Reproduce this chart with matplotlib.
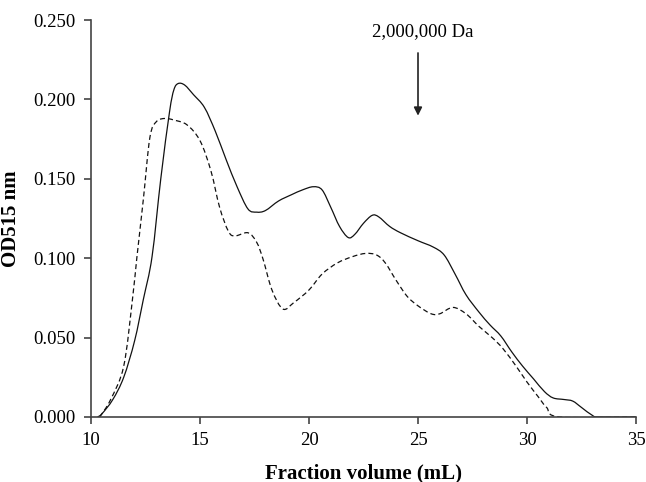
import matplotlib
matplotlib.use("Agg")
import matplotlib.pyplot as plt
from matplotlib.path import Path
from matplotlib.patches import PathPatch

plt.rcParams['font.family'] = ['Liberation Serif', 'DejaVu Serif']

# solid curve
solid_x = [10.3, 10.5, 11.0, 11.5, 12.0, 12.4, 12.8, 13.2, 13.6, 13.8, 14.0, 14.3, 14.7,
           15.2, 15.7, 16.2, 16.7, 17.2, 17.6, 18.0, 18.6, 19.2, 19.7, 20.2, 20.6, 21.0,
           21.4, 21.8, 22.1, 22.5, 22.9, 23.2, 23.7, 24.2, 25.0, 25.7, 26.2, 26.7, 27.2,
           27.8, 28.3, 28.8, 29.3, 29.8, 30.3, 30.8, 31.2, 31.7, 32.1, 32.5, 33.0, 33.3, 35.0]
solid_y = [0.000, 0.002, 0.011, 0.025, 0.048, 0.074, 0.101, 0.150, 0.192, 0.206, 0.210, 0.209, 0.203,
           0.195, 0.180, 0.162, 0.145, 0.131, 0.129, 0.130, 0.136, 0.140, 0.143, 0.145, 0.143, 0.132,
           0.120, 0.113, 0.115, 0.122, 0.127, 0.126, 0.120, 0.116, 0.111, 0.107, 0.102, 0.090, 0.077,
           0.066, 0.058, 0.051, 0.041, 0.032, 0.024, 0.016, 0.012, 0.011, 0.010, 0.006, 0.001, 0.000, 0.000]

# dashed curve
dash_x = [10.4, 10.9, 11.5, 11.9, 12.1, 12.4, 12.7, 13.0, 13.4, 13.8, 14.4, 15.0, 15.5, 15.9,
          16.3, 16.6, 17.2, 17.6, 17.9, 18.3, 18.8, 19.3, 20.0, 20.6, 21.3, 22.0, 22.6, 23.1,
          23.5, 24.0, 24.5, 25.0, 25.6, 26.0, 26.6, 27.2, 27.8, 28.4, 28.9, 29.5, 30.0, 30.5,
          30.9, 31.5, 35.0]
dash_y = [0.000, 0.011, 0.032, 0.074, 0.100, 0.137, 0.176, 0.186, 0.188, 0.187, 0.184, 0.174, 0.155, 0.132,
          0.117, 0.114, 0.116, 0.110, 0.099, 0.080, 0.068, 0.072, 0.080, 0.090, 0.097, 0.101, 0.103, 0.102,
          0.097, 0.086, 0.076, 0.070, 0.065, 0.065, 0.069, 0.065, 0.057, 0.050, 0.043, 0.032, 0.022, 0.013,
          0.006, 0.000, 0.000]

xticks = [10, 15, 20, 25, 30, 35]
yticks = [0.000, 0.050, 0.100, 0.150, 0.200, 0.250]


def smooth_path(xs, ys):
    # Catmull-Rom through the points, drawn as cubic bezier segments (like Excel smoothed lines)
    verts = [(xs[0], ys[0])]
    codes = [Path.MOVETO]
    n = len(xs)
    for i in range(n - 1):
        x0, y0 = (xs[i - 1], ys[i - 1]) if i > 0 else (xs[i], ys[i])
        x1, y1 = xs[i], ys[i]
        x2, y2 = xs[i + 1], ys[i + 1]
        x3, y3 = (xs[i + 2], ys[i + 2]) if i + 2 < n else (x2, y2)
        t = 1.0 / 6
        c1 = (x1 + (x2 - x0) * t, y1 + (y2 - y0) * t)
        c2 = (x2 - (x3 - x1) * t, y2 - (y3 - y1) * t)
        verts += [c1, c2, (x2, y2)]
        codes += [Path.CURVE4] * 3
    return Path(verts, codes)


fig = plt.figure(figsize=(6.46, 4.82), dpi=100)
ax = fig.add_axes([0.1409, 0.1349, 0.8436, 0.8236])

ax.add_patch(PathPatch(smooth_path(solid_x, solid_y), fill=False, edgecolor='#111111', lw=0.9))
ax.add_patch(PathPatch(smooth_path(dash_x, dash_y), fill=False, edgecolor='#111111', lw=0.9,
                       linestyle=(0, (4, 2.5))))

ax.set_xlim(10, 35)
ax.set_ylim(0, 0.25)
ax.set_xticks(xticks)
ax.set_yticks(yticks)
ax.set_yticklabels(['%.3f' % v for v in yticks])

for s in ['top', 'right']:
    ax.spines[s].set_visible(False)
for s in ['left', 'bottom']:
    ax.spines[s].set_color('#444444')
    ax.spines[s].set_linewidth(1.2)
ax.tick_params(direction='out', length=5, width=1.2, color='#444444', labelsize=13.5, pad=6)

ax.set_xlabel('Fraction volume (mL)', fontsize=15, fontweight='bold', labelpad=10)
ax.set_ylabel('OD515 nm', fontsize=15, fontweight='bold', labelpad=9)

ax.annotate('', xy=(25, 0.188), xytext=(25, 0.231),
            arrowprops=dict(arrowstyle='-|>', color='#222222', lw=1.2, mutation_scale=12))
ax.text(25.2, 0.2425, '2,000,000 Da', ha='center', va='center', fontsize=13.5)

fig.savefig('out.png', dpi=100)
